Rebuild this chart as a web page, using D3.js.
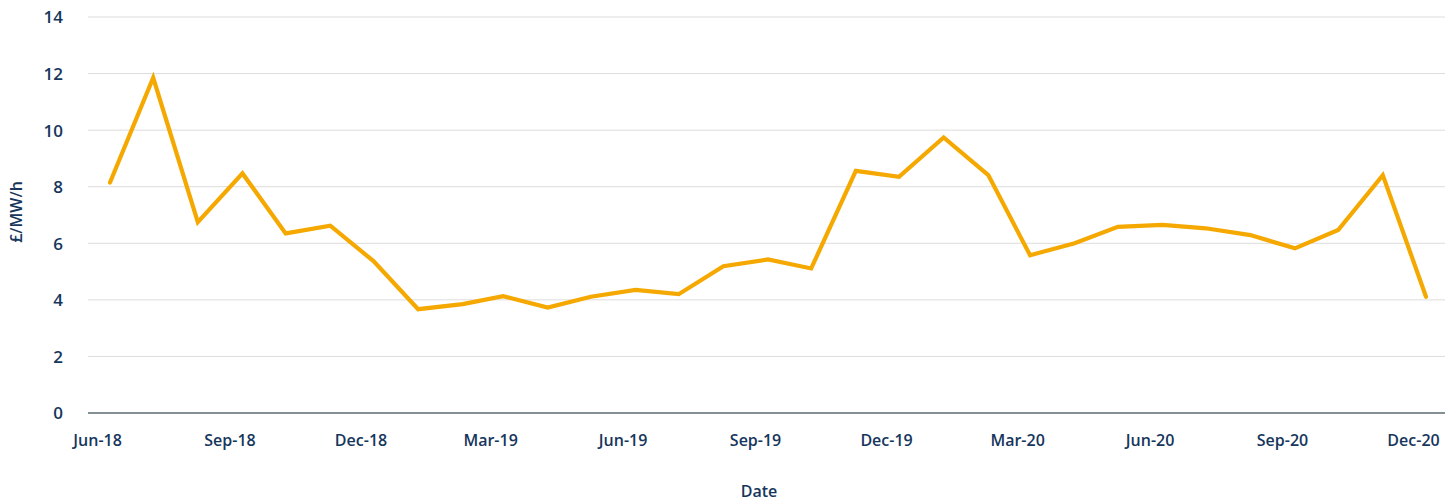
<!DOCTYPE html>
<html>
<head>
<meta charset="utf-8">
<script src="https://cdn.jsdelivr.net/npm/d3@7"></script>
<style>
  body { margin: 0; background: #fff; }
  text { font-family: "Open Sans", sans-serif; font-weight: 600; fill: #16365c; }
</style>
</head>
<body>
<div id="chart"></div>
<script>
// monthly values, Jun-18 .. Dec-20
var months = ["2018-06","2018-07","2018-08","2018-09","2018-10","2018-11","2018-12",
  "2019-01","2019-02","2019-03","2019-04","2019-05","2019-06","2019-07","2019-08","2019-09","2019-10","2019-11","2019-12",
  "2020-01","2020-02","2020-03","2020-04","2020-05","2020-06","2020-07","2020-08","2020-09","2020-10","2020-11","2020-12"];
var values = [8.15, 11.85, 6.75, 8.47, 6.35, 6.62, 5.37,
  3.67, 3.85, 4.13, 3.73, 4.11, 4.35, 4.2, 5.19, 5.43, 5.11, 8.56, 8.35,
  9.74, 8.41, 5.58, 6.0, 6.58, 6.65, 6.53, 6.29, 5.82, 6.47, 8.41, 4.11];
var tickMonths = ["2018-06","2018-09","2018-12","2019-03","2019-06","2019-09","2019-12","2020-03","2020-06","2020-09","2020-12"];
var yTicks = [0, 2, 4, 6, 8, 10, 12, 14];

var width = 1445, height = 501;
var margin = {left: 88, right: 0, top: 17, bottom: 88};

var parse = d3.timeParse("%Y-%m-%d");
// values sit a little after the first of the month, labels on the first
var data = months.map(function (m, i) { return {date: parse(m + "-10"), value: values[i]}; });

var svg = d3.select("#chart").append("svg")
  .attr("width", width)
  .attr("height", height);

var x = d3.scaleTime()
  .domain([data[0].date, data[data.length - 1].date])
  .range([110, 1426]);

var y = d3.scaleLinear()
  .domain([0, 14])
  .range([height - margin.bottom, margin.top]);

// grid
svg.append("g")
  .selectAll("line")
  .data(yTicks.filter(function (d) { return d > 0; }))
  .enter().append("line")
  .attr("x1", margin.left)
  .attr("x2", width)
  .attr("y1", function (d) { return y(d); })
  .attr("y2", function (d) { return y(d); })
  .attr("stroke", "#dcdcdc")
  .attr("stroke-width", 1);

// y axis labels
var yAxis = d3.axisLeft(y).tickValues(yTicks).tickSize(0).tickPadding(0);
var gy = svg.append("g")
  .attr("transform", "translate(63,0)")
  .call(yAxis);
gy.select(".domain").remove();
gy.selectAll("text").style("font-size", "17px").attr("dy", "0.35em");

// x axis
var xAxis = d3.axisBottom(x)
  .tickValues(tickMonths.map(function (m) { return parse(m + "-01"); }))
  .tickFormat(d3.timeFormat("%b-%y"))
  .tickSize(0)
  .tickPadding(22);
var gx = svg.append("g")
  .attr("transform", "translate(0," + y(0) + ")")
  .call(xAxis);
gx.select(".domain").remove();
gx.selectAll("text").style("font-size", "16px");

svg.append("line")
  .attr("x1", margin.left)
  .attr("x2", width)
  .attr("y1", y(0))
  .attr("y2", y(0))
  .attr("stroke", "#5d6b70")
  .attr("stroke-width", 1.5);

// line
var line = d3.line()
  .x(function (d) { return x(d.date); })
  .y(function (d) { return y(d.value); });

svg.append("path")
  .datum(data)
  .attr("d", line)
  .attr("fill", "none")
  .attr("stroke", "#f5a800")
  .attr("stroke-width", 4.2)
  .attr("stroke-linejoin", "miter")
  .attr("stroke-linecap", "round");

// titles
svg.append("text")
  .attr("x", 759)
  .attr("y", 497)
  .attr("text-anchor", "middle")
  .style("font-size", "16px")
  .text("Date");

svg.append("text")
  .attr("transform", "translate(22,212) rotate(-90)")
  .attr("text-anchor", "middle")
  .style("font-size", "16px")
  .text("£/MW/h");
</script>
</body>
</html>
